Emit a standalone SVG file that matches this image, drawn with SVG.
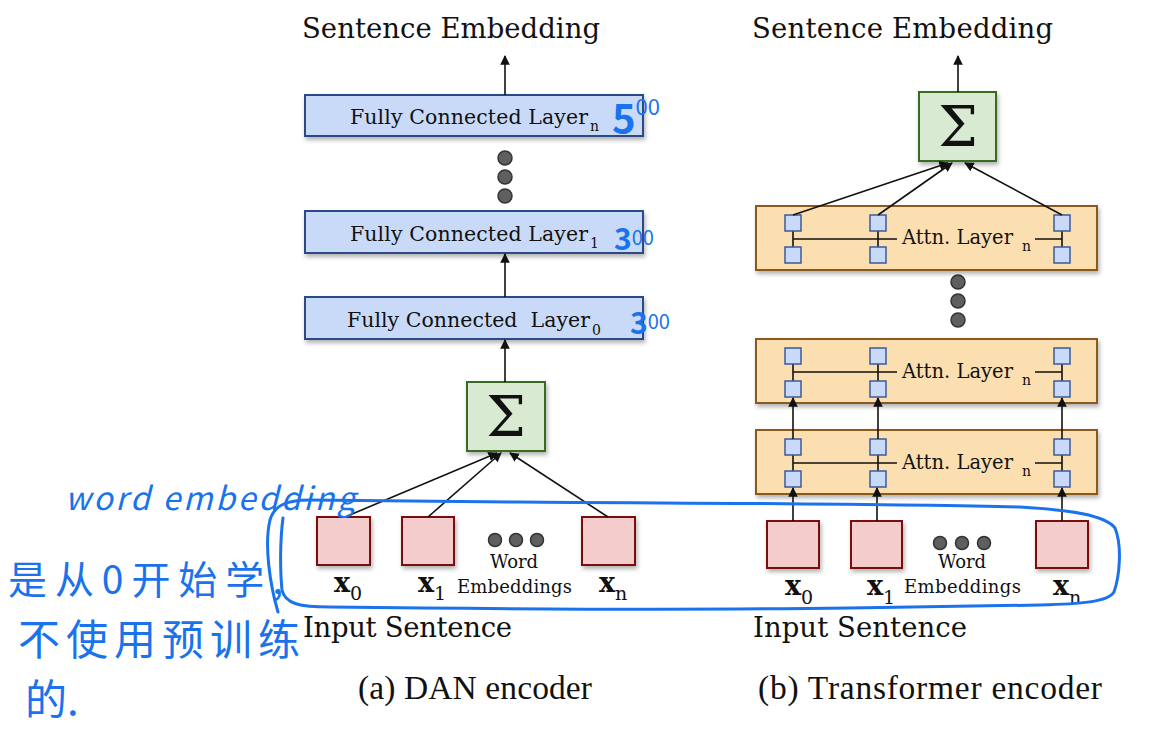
<svg xmlns="http://www.w3.org/2000/svg" width="1162" height="732" viewBox="0 0 1162 732">
<style>
.serif{font-family:"DejaVu Serif","Liberation Serif",serif;fill:#111}
.title{font-size:27.5px}
.fc{font-size:20.5px}
.attn{font-size:19.5px}
.we{font-size:18px;text-anchor:middle}
.xl{font-size:27px;font-weight:bold}
.sub{font-size:14px}
.xsub{font-size:19px;font-weight:normal}
.cap{font-family:"Liberation Serif","Times New Roman",serif;font-size:33.5px;fill:#111}
.sig{font-family:"DejaVu Serif","Liberation Serif",serif;font-size:56px;text-anchor:middle;fill:#111}
.fcbox{fill:#c9daf8;stroke:#2b4a85;stroke-width:2}
.sgbox{fill:#d9ead3;stroke:#3b6b22;stroke-width:2}
.wbox{fill:#f4cccc;stroke:#7a1010;stroke-width:2}
.abox{fill:#fbdfb0;stroke:#8a5a1e;stroke-width:2}
.sq{fill:#c9daf8;stroke:#3c5a9a;stroke-width:1.5}
.dot{fill:#5f5f5f;stroke:#333;stroke-width:1.5}
.ln{stroke:#111;stroke-width:1.6;fill:none}
.arr{stroke:#111;stroke-width:1.6;fill:none;marker-end:url(#ah)}
.hw{font-family:"Noto Sans CJK SC","Noto Sans",sans-serif;fill:#1a72ec}
.blue{stroke:#1a72ec;stroke-width:3;fill:none;stroke-linecap:round;stroke-linejoin:round}
</style>
<defs>
<marker id="ah" viewBox="0 0 10 10" refX="9" refY="5" markerWidth="6" markerHeight="6" orient="auto" markerUnits="strokeWidth">
<path d="M0,0 L10,5 L0,10 z" fill="#111"/>
</marker>
<filter id="sh" x="-10%" y="-10%" width="130%" height="140%">
<feDropShadow dx="1.5" dy="3" stdDeviation="2" flood-color="#000" flood-opacity="0.3"/>
</filter>
</defs>

<rect width="1162" height="732" fill="#fff"/>

<!-- Left: DAN encoder -->
<g id="dan-title"><text class="serif title" x="302" y="38" textLength="298">Sentence Embedding</text></g>
<g id="fc-n">
<rect class="fcbox" x="305" y="95" width="338" height="41" filter="url(#sh)"/>
<text class="serif fc" x="350" y="124" textLength="238">Fully Connected Layer</text>
<text class="serif sub" x="590" y="131">n</text>
</g>
<g id="dan-dots">
<circle class="dot" cx="505" cy="158" r="7"/>
<circle class="dot" cx="505" cy="177" r="7"/>
<circle class="dot" cx="505" cy="196" r="7"/>
</g>
<g id="fc-1">
<rect class="fcbox" x="305" y="211" width="338" height="42" filter="url(#sh)"/>
<text class="serif fc" x="350" y="241" textLength="238">Fully Connected Layer</text>
<text class="serif sub" x="590" y="248">1</text>
</g>
<g id="fc-0">
<rect class="fcbox" x="305" y="297" width="338" height="42" filter="url(#sh)"/>
<text class="serif fc" x="347" y="327" textLength="243" xml:space="preserve">Fully Connected  Layer</text>
<text class="serif sub" x="592" y="335">0</text>
</g>
<g id="dan-sum">
<rect class="sgbox" x="467" y="382" width="78" height="69" filter="url(#sh)"/>
<text class="sig" x="506" y="436">Σ</text>
</g>
<g id="dan-x0">
<rect class="wbox" x="317" y="517" width="53" height="48" filter="url(#sh)"/>
<text class="serif xl" x="334" y="592">x<tspan class="xsub" dy="8">0</tspan></text>
</g>
<g id="dan-x1">
<rect class="wbox" x="402" y="517" width="52" height="48" filter="url(#sh)"/>
<text class="serif xl" x="418" y="592">x<tspan class="xsub" dy="8">1</tspan></text>
</g>
<g id="dan-xn">
<rect class="wbox" x="582" y="517" width="53" height="48" filter="url(#sh)"/>
<text class="serif xl" x="599" y="592">x<tspan class="xsub" dy="8">n</tspan></text>
</g>
<g id="dan-we">
<circle class="dot" cx="495" cy="540" r="6.5"/>
<circle class="dot" cx="516" cy="540" r="6.5"/>
<circle class="dot" cx="537" cy="540" r="6.5"/>
<text class="serif we" x="514" y="568">Word</text>
<text class="serif we" x="514.5" y="593" textLength="115">Embeddings</text>
</g>
<g id="dan-input"><text class="serif title" x="303" y="637" textLength="209">Input Sentence</text></g>
<g id="dan-caption"><text class="cap" x="358" y="699" textLength="234">(a) DAN encoder</text></g>

<!-- Right: Transformer encoder -->
<g id="tr-title"><text class="serif title" x="752" y="38" textLength="301">Sentence Embedding</text></g>
<g id="tr-sum">
<rect class="sgbox" x="919" y="92" width="77" height="69" filter="url(#sh)"/>
<text class="sig" x="958" y="146">Σ</text>
</g>
<g id="tr-dots">
<circle class="dot" cx="958" cy="282" r="7"/>
<circle class="dot" cx="958" cy="301" r="7"/>
<circle class="dot" cx="958" cy="320" r="7"/>
</g>

<g id="attn-top">
<rect class="abox" x="756" y="206" width="341" height="64" filter="url(#sh)"/>
<path class="ln" d="M793,223 V255 M878,223 V255 M1062,223 V255 M793,239 H897 M1035,239 H1062"/>
<rect class="sq" x="785" y="215" width="16" height="16"/><rect class="sq" x="870" y="215" width="16" height="16"/><rect class="sq" x="1054" y="215" width="16" height="16"/>
<rect class="sq" x="785" y="247" width="16" height="16"/><rect class="sq" x="870" y="247" width="16" height="16"/><rect class="sq" x="1054" y="247" width="16" height="16"/>
<text class="serif attn" x="902" y="244" textLength="111">Attn. Layer</text>
<text class="serif sub" x="1022" y="251">n</text>
</g>
<g id="attn-mid">
<rect class="abox" x="756" y="339" width="341" height="64" filter="url(#sh)"/>
<path class="ln" d="M793,356 V389 M878,356 V389 M1062,356 V389 M793,372 H897 M1035,372 H1062"/>
<rect class="sq" x="785" y="348" width="16" height="16"/><rect class="sq" x="870" y="348" width="16" height="16"/><rect class="sq" x="1054" y="348" width="16" height="16"/>
<rect class="sq" x="785" y="381" width="16" height="16"/><rect class="sq" x="870" y="381" width="16" height="16"/><rect class="sq" x="1054" y="381" width="16" height="16"/>
<text class="serif attn" x="902" y="378" textLength="111">Attn. Layer</text>
<text class="serif sub" x="1022" y="385">n</text>
</g>
<g id="attn-low">
<rect class="abox" x="756" y="430" width="341" height="64" filter="url(#sh)"/>
<path class="ln" d="M793,447 V479 M878,447 V479 M1062,447 V479 M793,463 H897 M1035,463 H1062"/>
<rect class="sq" x="785" y="439" width="16" height="16"/><rect class="sq" x="870" y="439" width="16" height="16"/><rect class="sq" x="1054" y="439" width="16" height="16"/>
<rect class="sq" x="785" y="471" width="16" height="16"/><rect class="sq" x="870" y="471" width="16" height="16"/><rect class="sq" x="1054" y="471" width="16" height="16"/>
<text class="serif attn" x="902" y="469" textLength="111">Attn. Layer</text>
<text class="serif sub" x="1022" y="476">n</text>
</g>

<g id="tr-x0">
<rect class="wbox" x="767" y="521" width="52" height="47" filter="url(#sh)"/>
<text class="serif xl" x="785" y="595">x<tspan class="xsub" dy="9">0</tspan></text>
</g>
<g id="tr-x1">
<rect class="wbox" x="851" y="521" width="51" height="47" filter="url(#sh)"/>
<text class="serif xl" x="867" y="595">x<tspan class="xsub" dy="9">1</tspan></text>
</g>
<g id="tr-xn">
<rect class="wbox" x="1036" y="521" width="52" height="47" filter="url(#sh)"/>
<text class="serif xl" x="1053" y="595">x<tspan class="xsub" dy="9">n</tspan></text>
</g>
<g id="tr-we">
<circle class="dot" cx="940" cy="543" r="6.5"/>
<circle class="dot" cx="962" cy="543" r="6.5"/>
<circle class="dot" cx="984" cy="543" r="6.5"/>
<text class="serif we" x="962" y="568">Word</text>
<text class="serif we" x="962.5" y="593" textLength="117">Embeddings</text>
</g>
<g id="tr-input"><text class="serif title" x="753" y="637" textLength="214">Input Sentence</text></g>
<g id="tr-caption"><text class="cap" x="758" y="699" textLength="344">(b) Transformer encoder</text></g>

<!-- Connectors -->
<g id="connectors">
<line class="arr" x1="505" y1="95" x2="505" y2="56"/>
<line class="arr" x1="505" y1="297" x2="505" y2="254"/>
<line class="arr" x1="505" y1="382" x2="505" y2="340"/>
<line class="arr" x1="345" y1="517" x2="497" y2="453"/>
<line class="arr" x1="428" y1="517" x2="501" y2="453"/>
<line class="arr" x1="608" y1="517" x2="510" y2="453"/>
<line class="arr" x1="958" y1="92" x2="958" y2="56"/>
<line class="arr" x1="793" y1="215" x2="948" y2="163"/>
<line class="arr" x1="878" y1="215" x2="952" y2="163"/>
<line class="arr" x1="1062" y1="215" x2="965" y2="163"/>
<line class="arr" x1="793" y1="439" x2="793" y2="398"/>
<line class="arr" x1="878" y1="439" x2="878" y2="398"/>
<line class="arr" x1="1062" y1="439" x2="1062" y2="398"/>
<line class="arr" x1="793" y1="521" x2="793" y2="488"/>
<line class="arr" x1="877" y1="521" x2="877" y2="488"/>
<line class="arr" x1="1062" y1="521" x2="1062" y2="488"/>
</g>

<!-- Handwritten annotations -->
<g id="annotations">
<path class="blue" d="M278,612 C270,585 264,545 270,520 C274,506 285,500 310,500 L520,502 C700,503 900,504 1020,507 C1070,510 1105,515 1115,528 C1122,545 1120,575 1114,592 C1108,602 1080,604 1040,605 L850,608 C700,610 500,609 330,607 C300,607 285,604 282,590 C280,570 280,540 283,518"/>
<text class="hw" x="65" y="510" font-size="32" textLength="290" font-style="italic">word embedding</text>
<text class="hw" x="8" y="594" font-size="39" textLength="275">是从0开始学,</text>
<text class="hw" x="18" y="655" font-size="42" textLength="282">不使用预训练</text>
<text class="hw" x="25" y="715" font-size="42">的.</text>
<text class="hw" x="612" y="133" font-size="40" font-weight="bold">5<tspan font-size="22" font-weight="normal" dy="-18">00</tspan></text>
<text class="hw" x="614" y="250" font-size="30" font-weight="bold">3<tspan font-size="20" font-weight="normal" dy="-5">00</tspan></text>
<text class="hw" x="630" y="334" font-size="30" font-weight="bold">3<tspan font-size="20" font-weight="normal" dy="-5">00</tspan></text>
</g>
</svg>
